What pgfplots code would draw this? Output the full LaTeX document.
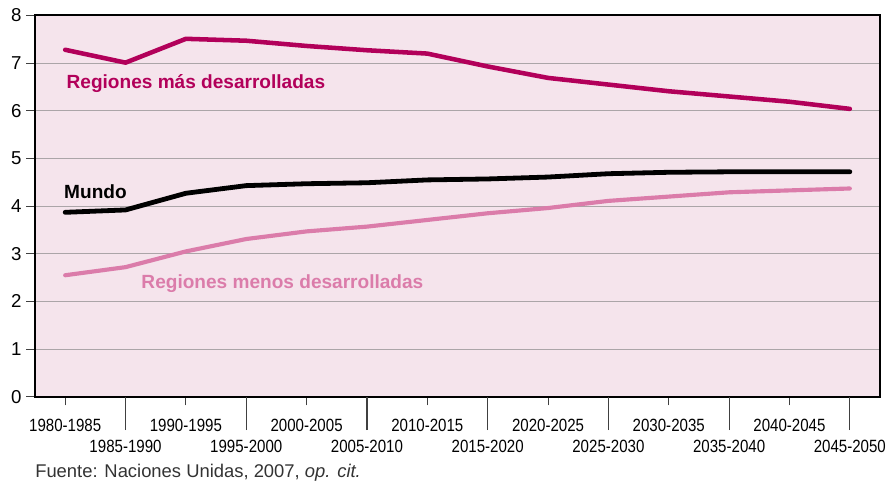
\documentclass[border=0pt]{standalone}
\usepackage{pgfplots}
\pgfplotsset{compat=1.18}
\usepackage{fontspec}
\setmainfont{Liberation Sans}
\newfontfamily\condfont[FakeStretch=0.85]{Liberation Sans}
\definecolor{masdes}{HTML}{B2005A}
\definecolor{menosdes}{HTML}{DB7CAA}
\definecolor{bgpink}{HTML}{F5E4EC}
\definecolor{gridgray}{HTML}{ABA5A8}

\begin{document}
\begin{tikzpicture}
\begin{axis}[
    name=main,
    scale only axis,
    width=633.75pt, height=286pt,
    xmin=-0.5, xmax=13.5,
    ymin=0, ymax=8,
    ytick={0,...,8},
    xtick={0,2,...,12},
    xticklabels={1980-1985,1990-1995,2000-2005,2010-2015,2020-2025,2030-2035,2040-2045},
    extra x ticks={1,3,...,13},
    extra x tick labels={1985-1990,1995-2000,2005-2010,2015-2020,2025-2030,2035-2040,2045-2050},
    extra x tick style={major tick length=25pt, xticklabel style={yshift=3.3pt}},
    xticklabel style={font=\condfont\fontsize{13.3}{15}\selectfont, yshift=-7pt},
    yticklabel style={font=\fontsize{14}{16}\selectfont, /pgf/number format/assume math mode=true},
    xtick pos=bottom, ytick pos=left,
    tick align=outside,
    major tick length=6.5pt,
    tick style={draw=black!75, line width=0.8pt},
    axis line style={line width=1.5pt},
    axis background/.style={fill=bgpink},
    ymajorgrids=true,
    major grid style={draw=gridgray, line width=0.75pt},
    every axis plot/.append style={line cap=round, line join=round},
    clip=false,
]
\addplot[masdes, line width=3.4pt] coordinates {
    (0,7.28) (1,7.01) (2,7.51) (3,7.47) (4,7.36) (5,7.27) (6,7.20)
    (7,6.93) (8,6.69) (9,6.55) (10,6.41) (11,6.30) (12,6.19) (13,6.04)
};
\addplot[black, line width=3.6pt] coordinates {
    (0,3.87) (1,3.92) (2,4.27) (3,4.43) (4,4.47) (5,4.49) (6,4.55)
    (7,4.57) (8,4.61) (9,4.68) (10,4.71) (11,4.72) (12,4.72) (13,4.72)
};
\addplot[menosdes, line width=3.1pt] coordinates {
    (0,2.55) (1,2.72) (2,3.05) (3,3.31) (4,3.47) (5,3.57) (6,3.71)
    (7,3.85) (8,3.96) (9,4.11) (10,4.20) (11,4.29) (12,4.33) (13,4.37)
};
\node[anchor=base west, inner sep=0, text=masdes, font=\bfseries\fontsize{14.3}{17}\selectfont]
    at (axis cs:0.02,6.46) {Regiones más desarrolladas};
\node[anchor=base west, inner sep=0, font=\bfseries\fontsize{14.3}{17}\selectfont]
    at (axis cs:-0.02,4.17) {Mundo};
\node[anchor=base west, inner sep=0, text=menosdes, font=\bfseries\fontsize{14.3}{17}\selectfont]
    at (axis cs:1.26,2.28) {Regiones menos desarrolladas};
\end{axis}
\node[anchor=base west, inner sep=0, font=\fontsize{13.8}{16}\selectfont, text=black!80]
    at ([yshift=-60.5pt]main.south west) {Fuente: Naciones Unidas, 2007, \textit{op. cit.}};
\pgfresetboundingbox
\path[use as bounding box] ([xshift=-26.25pt,yshift=-70.5pt]main.south west)
    rectangle ([xshift=5.25pt,yshift=11.6pt]main.north east);
\end{tikzpicture}
\end{document}
